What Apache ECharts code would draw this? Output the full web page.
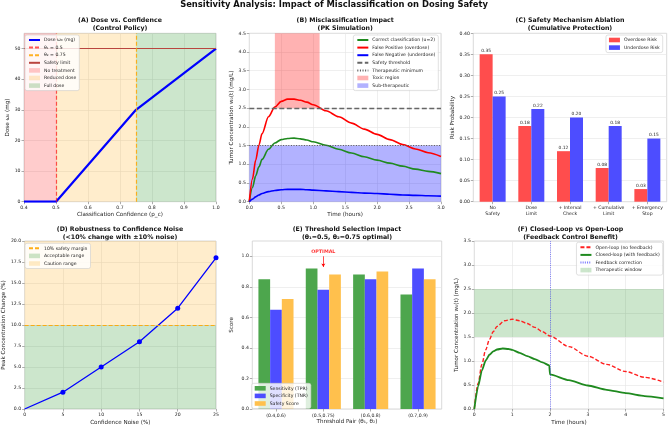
<!DOCTYPE html>
<html><head><meta charset="utf-8">
<script src="https://cdn.jsdelivr.net/npm/echarts@6/dist/echarts.min.js"></script>
<style>html,body{margin:0;padding:0;background:#fff}#c{width:668px;height:427px}</style>
</head><body><div id="c"></div>
<script>
// ---------------- DATA ----------------
// (A) Dose vs confidence
const confidence = [0.4, 0.5, 0.75, 1.0];
const doseMg = [0, 0, 30, 50];
const theta1 = 0.5, theta2 = 0.75, safetyLimit = 50;
const confMin = 0.4, confMax = 1.0;

// (B) PK simulation
const timeB = [0,0.05,0.1,0.15,0.2,0.3,0.4,0.5,0.6,0.7,0.8,0.9,1.0,1.2,1.4,1.6,1.8,2.0,2.2,2.4,2.6,2.8,3.0];
const correctConc = [0,0.38,0.69,0.93,1.13,1.40,1.57,1.66,1.69,1.70,1.68,1.65,1.60,1.51,1.40,1.30,1.20,1.11,1.03,0.95,0.87,0.81,0.75];
const falsePosConc = [0,0.61,1.11,1.51,1.82,2.27,2.53,2.68,2.74,2.74,2.71,2.66,2.59,2.43,2.27,2.10,1.94,1.80,1.66,1.53,1.41,1.31,1.21];
const falseNegConc = [0,0.07,0.13,0.18,0.22,0.27,0.30,0.32,0.33,0.33,0.33,0.32,0.31,0.29,0.27,0.25,0.23,0.22,0.20,0.18,0.17,0.16,0.15];
const safetyThreshold = 2.5, therapeuticMin = 1.5;
const toxicTime = [0.4, 1.1];
const concTop = 4.5;

// (C) Safety ablation
const mechanisms = ['No\nSafety','Dose\nLimit','+ Interval\nCheck','+ Cumulative\nLimit','+ Emergency\nStop'];
const overdoseRisk = [0.35,0.18,0.12,0.08,0.03];
const underdoseRisk = [0.25,0.22,0.20,0.18,0.15];

// (D) Robustness
const noiseLevels = [0,5,10,15,20,25];
const peakChange = [0,2,5,8,12,18];
const safetyMargin = 10, changeTop = 20;

// (E) Threshold selection
const thresholdPairs = ['(0.4,0.6)','(0.5,0.75)','(0.6,0.8)','(0.7,0.9)'];
const sensitivity = [0.85,0.92,0.88,0.75];
const specificity = [0.65,0.78,0.85,0.92];
const safetyScore = [0.72,0.88,0.90,0.85];
const optimalPair = '(0.5,0.75)';
const optimalText = 1.03, arrowFrom = 1.0, arrowTo = 0.93;

// (F) Closed vs open loop
const timeOpen = [0,0.1,0.2,0.3,0.4,0.5,0.6,0.8,1.0,1.2,1.4,1.6,1.8,2.0,2.5,3.0,3.5,4.0,4.5,5.0];
const openLoop = [0,0.53,0.93,1.23,1.45,1.61,1.72,1.84,1.87,1.84,1.78,1.70,1.61,1.52,1.30,1.10,0.93,0.78,0.66,0.56];
const timeClosed = [0,0.1,0.2,0.3,0.4,0.5,0.6,0.75,0.9,1.0,1.2,1.4,1.6,1.8,1.98,2.0,2.5,3.0,3.5,4.0,4.5,5.0];
const closedLoop = [0,0.47,0.80,1.01,1.13,1.20,1.24,1.26,1.25,1.23,1.17,1.10,1.04,0.97,0.91,0.72,0.60,0.49,0.40,0.33,0.27,0.22];
const feedbackTime = 2;
const therapeuticWindow = [1.5, 2.5];

// ---------------- STYLE / LAYOUT ----------------
const FONT = 'DejaVu Sans';
const zip = (a, b) => a.map((v, i) => [v, b[i]]);
const grids = [
  {left:24, top:33.3, width:192, height:168.4},
  {left:249.3, top:33.3, width:191.7, height:168.4},
  {left:473.3, top:33.3, width:193.4, height:168.4},
  {left:24, top:241, width:192, height:168},
  {left:252.3, top:241, width:189.4, height:168},
  {left:474.3, top:241, width:192.4, height:168}
].map(g => Object.assign({show:true, borderColor:'#cfcfcf', borderWidth:0.8, backgroundColor:'transparent'}, g));

const tickStyle = {show:true, length:2.5, lineStyle:{color:'#777', width:0.6}};
const labelBase = {fontSize:4.6, color:'#222', fontFamily:FONT, margin:3.5};
const nameStyle = {fontSize:5.6, color:'#222', fontFamily:FONT};
const gridLine = {show:true, lineStyle:{color:'#e4e4e4', width:0.6}};

function vAxis(gi, o) {
  const ax = {
    type:'value', gridIndex:gi, min:o.min, max:o.max, interval:o.interval,
    name:o.name || '', nameLocation:'middle', nameGap:o.gap || 10, nameTextStyle:nameStyle,
    axisLine:{show:false}, axisTick:Object.assign({}, tickStyle),
    axisLabel:Object.assign({}, labelBase, {formatter:o.fmt}),
    splitLine:gridLine
  };
  if (o.custom) {
    ax.axisTick.customValues = o.custom;
    ax.axisLabel.customValues = o.custom;
  }
  return ax;
}
function cAxis(gi, cats, name, gap) {
  return {
    type:'category', gridIndex:gi, data:cats, name:name || '', nameLocation:'middle', nameGap:gap || 10,
    nameTextStyle:nameStyle, axisLine:{show:false},
    axisTick:Object.assign({alignWithLabel:true}, tickStyle),
    axisLabel:Object.assign({}, labelBase, {interval:0, lineHeight:5.6, margin:3.5}),
    splitLine:{show:false}
  };
}
const f1 = v => v.toFixed(1), f2 = v => v.toFixed(2), f0 = v => String(Math.round(v));

function areaSeries(name, gi, color, areas) {
  return {name, type:'line', xAxisIndex:gi, yAxisIndex:gi, data:[], symbol:'none',
    itemStyle:{color}, lineStyle:{color},
    markArea:{silent:true, itemStyle:{color}, data:areas}, z:1};
}
function refSeries(name, gi, ls, lines) {
  return {name, type:'line', xAxisIndex:gi, yAxisIndex:gi, data:[], symbol:'none',
    itemStyle:{color:ls.color}, lineStyle:ls,
    markLine:{silent:true, symbol:['none','none'], label:{show:false}, lineStyle:ls, data:lines}, z:3};
}
function curve(name, gi, xs, ys, ls, extra) {
  return Object.assign({name, type:'line', xAxisIndex:gi, yAxisIndex:gi, data:zip(xs, ys), symbol:'none',
    smooth:0.3, smoothMonotone:'x', itemStyle:{color:ls.color}, lineStyle:ls, z:4}, extra || {});
}
function bar(name, gi, vals, color, w, lbl) {
  const s = {name, type:'bar', xAxisIndex:gi, yAxisIndex:gi, data:vals, barWidth:w, barGap:'0%',
    itemStyle:{color}, z:3};
  if (lbl) s.label = {show:true, position:'top', distance:1.5, fontSize:4.4, color:'#222', fontFamily:FONT, formatter:p => f2(p.value)};
  return s;
}
const L = n => ({name:n, itemStyle:{opacity:0}});
const R = n => ({name:n, icon:'rect'});
function legend(data, pos) {
  return Object.assign({data, orient:'vertical', selectedMode:false, itemWidth:11, itemHeight:4.6, itemGap:2.6,
    padding:[2.5,3,2.5,3], backgroundColor:'rgba(255,255,255,0.82)', borderColor:'#cccccc', borderWidth:0.6, borderRadius:2,
    z:20, zlevel:0,
    textStyle:{fontSize:4.6, color:'#222', fontFamily:FONT, padding:[0,0,0,-1]}}, pos);
}
function subTitle(text, cx, top) {
  return {text, left:cx, top, textAlign:'center', padding:0,
    textStyle:{fontSize:6.25, fontWeight:'bold', color:'#111', fontFamily:FONT, lineHeight:8.2}};
}

const option = {
  animation:false,
  backgroundColor:'#fff',
  title:[
    {text:'Sensitivity Analysis: Impact of Misclassification on Dosing Safety', left:334, top:0, textAlign:'center', padding:0,
      textStyle:{fontSize:8.4, fontWeight:'bold', color:'#111', fontFamily:FONT, lineHeight:10}},
    subTitle('(A) Dose vs. Confidence\n(Control Policy)', 120, 16.5),
    subTitle('(B) Misclassification Impact\n(PK Simulation)', 345.2, 16.5),
    subTitle('(C) Safety Mechanism Ablation\n(Cumulative Protection)', 570, 16.5),
    subTitle('(D) Robustness to Confidence Noise\n(<10% change with \u00b110% noise)', 120, 225),
    subTitle('(E) Threshold Selection Impact\n(\u03b8\u2081=0.5, \u03b8\u2082=0.75 optimal)', 347, 225),
    subTitle('(F) Closed-Loop vs Open-Loop\n(Feedback Control Benefit)', 570.5, 225)
  ],
  grid:grids,
  xAxis:[
    vAxis(0, {min:confMin, max:confMax, interval:0.1, fmt:f1, name:'Classification Confidence (p_c)', gap:9.5}),
    vAxis(1, {min:0, max:3, interval:0.5, fmt:f1, name:'Time (hours)', gap:9.5}),
    cAxis(2, mechanisms),
    vAxis(3, {min:0, max:25, interval:5, fmt:f0, name:'Confidence Noise (%)', gap:10.5}),
    cAxis(4, thresholdPairs, 'Threshold Pair (\u03b8\u2081, \u03b8\u2082)', 10),
    vAxis(5, {min:0, max:5, interval:1, fmt:f0, name:'Time (hours)', gap:10.5})
  ],
  yAxis:[
    vAxis(0, {min:0, max:55, interval:10, fmt:f0, name:'Dose \u03c9\u2080 (mg)', gap:13.5, custom:[0,10,20,30,40,50]}),
    vAxis(1, {min:0, max:concTop, interval:0.5, fmt:f1, name:'Tumor Concentration w\u2080(t) (mg/L)', gap:14}),
    vAxis(2, {min:0, max:0.4, interval:0.05, fmt:f2, name:'Risk Probability', gap:17}),
    vAxis(3, {min:0, max:changeTop, interval:2.5, fmt:f1, name:'Peak Concentration Change (%)', gap:13.5}),
    vAxis(4, {min:0, max:1.1, interval:0.2, fmt:f1, name:'Score', gap:17.5, custom:[0,0.2,0.4,0.6,0.8,1.0]}),
    vAxis(5, {min:0, max:3.5, interval:0.5, fmt:f1, name:'Tumor Concentration w\u2080(t) (mg/L)', gap:15})
  ],
  legend:[
    legend([L('Dose \u03c9\u2080 (mg)'), L('\u03b8\u2081 = 0.5'), L('\u03b8\u2082 = 0.75'), L('Safety limit'), R('No treatment'), R('Reduced dose'), R('Full dose')], {left:25, top:35}),
    legend([L('Correct classification (u=2)'), L('False Positive (overdose)'), L('False Negative (underdose)'), L('Safety threshold'), L('Therapeutic minimum'), R('Toxic region'), R('Sub-therapeutic')], {right:229.7, top:35}),
    legend([R('Overdose Risk'), R('Underdose Risk')], {right:5.3, top:35}),
    legend([L('10% safety margin'), R('Acceptable range'), R('Caution range')], {left:25, top:243.3}),
    legend([R('Sensitivity (TPR)'), R('Specificity (TNR)'), R('Safety Score')], {left:251.7, top:383.3}),
    legend([L('Open-loop (no feedback)'), L('Closed-loop (with feedback)'), L('Feedback correction'), R('Therapeutic window')], {right:5.3, top:242.3})
  ],
  series:[
    // ---- A ----
    areaSeries('No treatment', 0, 'rgba(255,0,0,0.2)', [[{xAxis:confMin},{xAxis:theta1}]]),
    areaSeries('Reduced dose', 0, 'rgba(255,165,0,0.2)', [[{xAxis:theta1},{xAxis:theta2}]]),
    areaSeries('Full dose', 0, 'rgba(0,128,0,0.2)', [[{xAxis:theta2},{xAxis:confMax}]]),
    refSeries('Safety limit', 0, {color:'#b9453f', width:1, type:'solid'}, [{yAxis:safetyLimit}]),
    refSeries('\u03b8\u2081 = 0.5', 0, {color:'rgba(255,30,30,0.75)', width:1.2, type:[4,2]}, [{xAxis:theta1}]),
    refSeries('\u03b8\u2082 = 0.75', 0, {color:'rgba(255,165,0,0.85)', width:1.2, type:[4,2]}, [{xAxis:theta2}]),
    curve('Dose \u03c9\u2080 (mg)', 0, confidence, doseMg, {color:'#0000ff', width:2.2}, {smooth:false}),
    // ---- B ----
    areaSeries('Sub-therapeutic', 1, 'rgba(0,0,255,0.3)', [[{yAxis:0},{yAxis:therapeuticMin}]]),
    areaSeries('Toxic region', 1, 'rgba(255,0,0,0.3)', [[{xAxis:toxicTime[0], yAxis:safetyThreshold},{xAxis:toxicTime[1], yAxis:concTop}]]),
    refSeries('Safety threshold', 1, {color:'#666', width:1.3, type:[5,2.5]}, [{yAxis:safetyThreshold}]),
    refSeries('Therapeutic minimum', 1, {color:'#555', width:1.1, type:[1,1.6]}, [{yAxis:therapeuticMin}]),
    curve('Correct classification (u=2)', 1, timeB, correctConc, {color:'#1f8a1f', width:1.6}),
    curve('False Positive (overdose)', 1, timeB, falsePosConc, {color:'#ff0000', width:1.6}),
    curve('False Negative (underdose)', 1, timeB, falseNegConc, {color:'#0000ff', width:1.6}),
    // ---- C ----
    bar('Overdose Risk', 2, overdoseRisk, '#ff4d4d', 13, true),
    bar('Underdose Risk', 2, underdoseRisk, '#4d4dff', 13, true),
    // ---- D ----
    areaSeries('Acceptable range', 3, 'rgba(0,128,0,0.2)', [[{yAxis:0},{yAxis:safetyMargin}]]),
    areaSeries('Caution range', 3, 'rgba(255,165,0,0.2)', [[{yAxis:safetyMargin},{yAxis:changeTop}]]),
    refSeries('10% safety margin', 3, {color:'rgba(255,165,0,0.9)', width:1.2, type:[4,2]}, [{yAxis:safetyMargin}]),
    {name:'Peak change', type:'line', xAxisIndex:3, yAxisIndex:3,
      data:zip(noiseLevels, peakChange).map((p, i) => i === 0 ? {value:p, symbol:'none'} : p),
      symbol:'circle', symbolSize:5, itemStyle:{color:'#0000ff'}, lineStyle:{color:'#0000ff', width:1.3}, z:4},
    // ---- E ----
    bar('Sensitivity (TPR)', 4, sensitivity, '#4da64d', 11.7),
    bar('Specificity (TNR)', 4, specificity, '#4d4dff', 11.7),
    bar('Safety Score', 4, safetyScore, '#ffc04d', 11.7),
    {name:'optimal-note', type:'scatter', xAxisIndex:4, yAxisIndex:4, data:[[optimalPair, optimalText]],
      symbolSize:0.1, itemStyle:{color:'red'}, silent:true, z:6,
      label:{show:true, position:'inside', formatter:'OPTIMAL', color:'#ff0000', fontSize:4.8, fontWeight:'bold', fontFamily:FONT},
      markLine:{silent:true, symbol:['none','arrow'], symbolSize:[3,3.5], label:{show:false},
        lineStyle:{color:'#ff0000', width:0.7, type:'solid'},
        data:[[{coord:[optimalPair, arrowFrom]},{coord:[optimalPair, arrowTo]}]]}},
    // ---- F ----
    areaSeries('Therapeutic window', 5, 'rgba(0,128,0,0.2)', [[{yAxis:therapeuticWindow[0]},{yAxis:therapeuticWindow[1]}]]),
    refSeries('Feedback correction', 5, {color:'rgba(60,60,255,0.7)', width:0.9, type:[1,1.2]}, [{xAxis:feedbackTime}]),
    curve('Open-loop (no feedback)', 5, timeOpen, openLoop, {color:'#ff2020', width:1.4, type:[4,2]}),
    curve('Closed-loop (with feedback)', 5, timeClosed, closedLoop, {color:'#1f8a1f', width:1.8}, {smooth:0.2})
  ]
};
const chart = echarts.init(document.getElementById('c'), null, {renderer:'canvas'});
chart.setOption(option);
</script>
</body></html>
